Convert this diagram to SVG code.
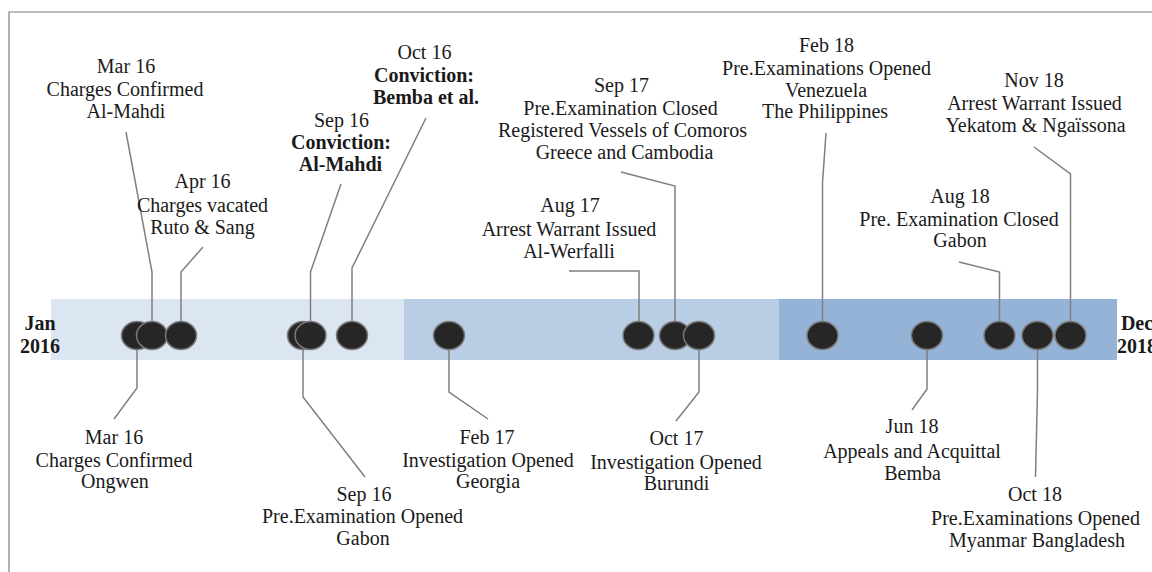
<svg xmlns="http://www.w3.org/2000/svg" width="1152" height="572" viewBox="0 0 1152 572">
<style>
text{font-family:"Liberation Serif","Times New Roman",serif;font-size:20px;fill:#1a1a1a;text-anchor:middle}
.b{font-weight:bold}
.dot{fill:#262626;stroke:#7a7a7a;stroke-width:1.5}
.con{fill:none;stroke:#7f7f7f;stroke-width:1.5}
</style>
<rect width="1152" height="572" fill="#fff"/>
<path d="M9,572 V12 H1152" fill="none" stroke="#7f7f7f" stroke-width="1.2"/>
<g id="bar">
<rect x="51" y="299" width="353" height="61" fill="#dce6f2"/>
<rect x="404" y="299" width="375" height="61" fill="#b9cde5"/>
<rect x="779" y="299" width="338" height="61" fill="#95b3d7"/>
</g>
<g id="labels-ends">
<text class="b" x="40" y="330">Jan</text>
<text class="b" x="40" y="353">2016</text>
<text class="b" x="1137" y="330">Dec</text>
<text class="b" x="1137" y="353">2018</text>
</g>
<g id="connectors">
<polyline class="con" points="126,132 152,272 152,335"/>
<polyline class="con" points="203,247 181,272 181,335"/>
<polyline class="con" points="341,184 310.5,272 310.5,335"/>
<polyline class="con" points="426,118 352,268 352,335"/>
<polyline class="con" points="569,271 639,271 639,335"/>
<polyline class="con" points="621,172 675,186 675,335"/>
<polyline class="con" points="826,133 822.5,183 822.5,335"/>
<polyline class="con" points="959,262 999.5,272 999.5,335"/>
<polyline class="con" points="1034,147 1070.5,174 1070.5,335"/>
<polyline class="con" points="137,335 137,388 114,419"/>
<polyline class="con" points="303,335 303,397 365,477"/>
<polyline class="con" points="449,335 449,392 488,419"/>
<polyline class="con" points="699,335 699,392 676,421"/>
<polyline class="con" points="927,335 927,389 912,410"/>
<polyline class="con" points="1037.5,335 1037.5,390 1035.5,477"/>
</g>
<g id="n-mar16-ongwen">
<ellipse class="dot" cx="137" cy="335.5" rx="15.5" ry="14"/>
<text x="114" y="444">Mar 16</text>
<text x="114" y="467">Charges Confirmed</text>
<text x="115" y="488">Ongwen</text>
</g>
<g id="n-mar16-almahdi">
<ellipse class="dot" cx="152" cy="335.5" rx="15.5" ry="14"/>
<text x="126" y="73">Mar 16</text>
<text x="125" y="96">Charges Confirmed</text>
<text x="126" y="118">Al-Mahdi</text>
</g>
<g id="n-apr16">
<ellipse class="dot" cx="181" cy="335.5" rx="15.5" ry="14"/>
<text x="202.5" y="188">Apr 16</text>
<text x="202.5" y="212">Charges vacated</text>
<text x="202.5" y="234">Ruto &amp; Sang</text>
</g>
<g id="n-sep16-gabon">
<ellipse class="dot" cx="303" cy="335.5" rx="15.5" ry="14"/>
<text x="364" y="501">Sep 16</text>
<text x="362.5" y="523">Pre.Examination Opened</text>
<text x="363" y="545">Gabon</text>
</g>
<g id="n-sep16-conviction">
<ellipse class="dot" cx="310.5" cy="335.5" rx="15.5" ry="14"/>
<text x="341.5" y="127">Sep 16</text>
<text class="b" x="341" y="149">Conviction:</text>
<text class="b" x="340.5" y="171">Al-Mahdi</text>
</g>
<g id="n-oct16">
<ellipse class="dot" cx="352" cy="335.5" rx="15.5" ry="14"/>
<text x="424.5" y="59">Oct 16</text>
<text class="b" x="424" y="82">Conviction:</text>
<text class="b" x="426" y="104">Bemba et al.</text>
</g>
<g id="n-feb17">
<ellipse class="dot" cx="449" cy="335.5" rx="15.5" ry="14"/>
<text x="487" y="444">Feb 17</text>
<text x="488" y="467">Investigation Opened</text>
<text x="488" y="488">Georgia</text>
</g>
<g id="n-aug17">
<ellipse class="dot" cx="638.5" cy="335.5" rx="15.5" ry="14"/>
<text x="570" y="212">Aug 17</text>
<text x="569" y="236">Arrest Warrant Issued</text>
<text x="569" y="258">Al-Werfalli</text>
</g>
<g id="n-sep17">
<ellipse class="dot" cx="675" cy="335.5" rx="15.5" ry="14"/>
<text x="621.5" y="92">Sep 17</text>
<text x="620.5" y="115">Pre.Examination Closed</text>
<text x="622.5" y="137">Registered Vessels of Comoros</text>
<text x="624.5" y="159">Greece and Cambodia</text>
</g>
<g id="n-oct17">
<ellipse class="dot" cx="699" cy="335.5" rx="15.5" ry="14"/>
<text x="676.5" y="445">Oct 17</text>
<text x="676" y="469">Investigation Opened</text>
<text x="676.5" y="490">Burundi</text>
</g>
<g id="n-feb18">
<ellipse class="dot" cx="822.5" cy="335.5" rx="15.5" ry="14"/>
<text x="826.5" y="52">Feb 18</text>
<text x="826.5" y="75">Pre.Examinations Opened</text>
<text x="826" y="97">Venezuela</text>
<text x="825" y="118">The Philippines</text>
</g>
<g id="n-jun18">
<ellipse class="dot" cx="927" cy="335.5" rx="15.5" ry="14"/>
<text x="912" y="433">Jun 18</text>
<text x="912" y="458">Appeals and Acquittal</text>
<text x="912.5" y="480">Bemba</text>
</g>
<g id="n-aug18">
<ellipse class="dot" cx="999.5" cy="335.5" rx="15.5" ry="14"/>
<text x="960" y="203">Aug 18</text>
<text x="959" y="226">Pre. Examination Closed</text>
<text x="960" y="247">Gabon</text>
</g>
<g id="n-oct18">
<ellipse class="dot" cx="1037.5" cy="335.5" rx="15.5" ry="14"/>
<text x="1035" y="501">Oct 18</text>
<text x="1035.5" y="525">Pre.Examinations Opened</text>
<text x="1037" y="547">Myanmar Bangladesh</text>
</g>
<g id="n-nov18">
<ellipse class="dot" cx="1070.5" cy="335.5" rx="15.5" ry="14"/>
<text x="1034" y="87">Nov 18</text>
<text x="1034.5" y="110">Arrest Warrant Issued</text>
<text x="1035.5" y="132">Yekatom &amp; Ngaïssona</text>
</g>
</svg>
